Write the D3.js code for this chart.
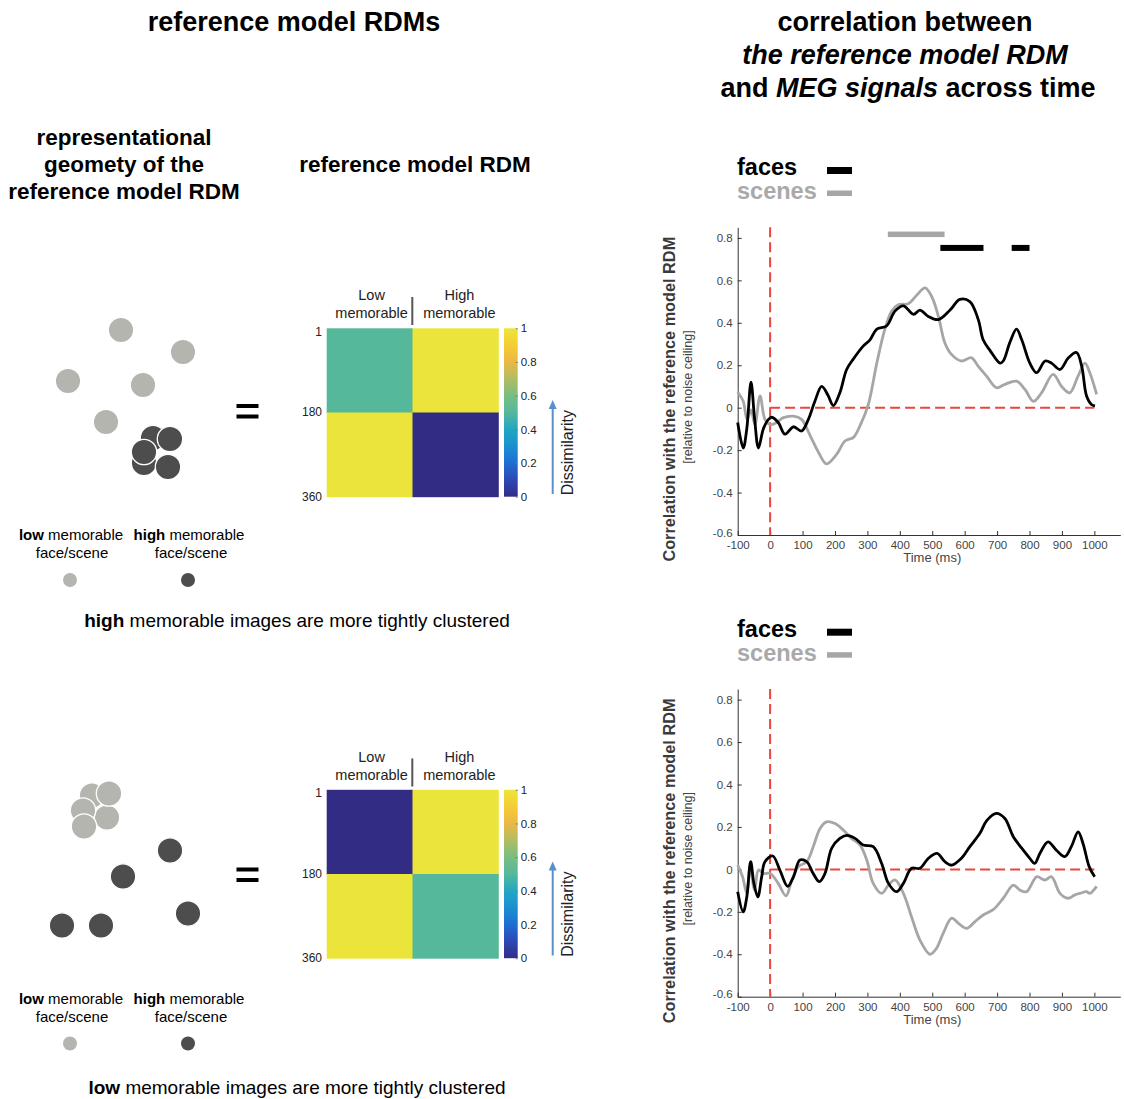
<!DOCTYPE html>
<html>
<head>
<meta charset="utf-8">
<script src="https://cdn.jsdelivr.net/npm/d3@7"></script>
<style>
  body { margin: 0; background: #fff; }
  svg text { font-family: "Liberation Sans", Arial, Helvetica, sans-serif; }
</style>
</head>
<body>
<div id="fig"></div>
<script>
// ---- data ----
const timeTicks = [-100, 0, 100, 200, 300, 400, 500, 600, 700, 800, 900, 1000]
const corrTicks = [-0.6, -0.4, -0.2, 0, 0.2, 0.4, 0.6, 0.8]
const rdmTicks = [1, 180, 360]
const cbarTicks = [0, 0.2, 0.4, 0.6, 0.8, 1]
const groups = ["Low", "High"]

// model RDMs (block values, low / high memorable)
const rdmHighClustered = [[0.5, 1], [1, 0]]
const rdmLowClustered = [[0, 1], [1, 0.5]]

// 2D geometry sketches (arbitrary embedding units)
const geoHighLow = [[121, 30], [183, 52], [68, 81], [143, 85], [106, 122]]
const geoHighHigh = [[153, 138], [144, 163], [168, 167], [170, 139], [144, 152]]
const geoLowLow = [[92, 34], [107, 56], [109, 32], [83, 49], [84, 65]]
const geoLowHigh = [[170, 89], [123, 115], [188, 152], [62, 164], [101, 164]]

// [time ms, correlation] - high memorable clustered model
const facesA = [[-100,-0.07],[-83,-0.19],[-72,-0.1],[-59,0.12],[-48,-0.05],[-36,-0.19],[-21,-0.1],[-5,-0.055],[5,-0.045],[25,-0.07],[46,-0.125],[72,-0.09],[97,-0.11],[118,-0.055],[138,0.03],[159,0.1],[178,0.06],[195,0.01],[215,0.07],[236,0.18],[257,0.23],[287,0.29],[308,0.32],[329,0.37],[359,0.385],[385,0.455],[411,0.48],[442,0.44],[462,0.46],[488,0.43],[519,0.415],[555,0.46],[585,0.51],[616,0.5],[642,0.415],[657,0.32],[678,0.27],[709,0.21],[719,0.22],[740,0.31],[760,0.37],[776,0.32],[801,0.21],[822,0.165],[848,0.22],[868,0.21],[894,0.18],[920,0.235],[945,0.26],[961,0.195],[976,0.055],[991,0.015],[1002,0.008]]
const scenesA = [[-100,0.074],[-83,0.03],[-71,-0.055],[-59,-0.01],[-47,-0.08],[-31,0.055],[-16,-0.055],[0,-0.08],[20,-0.07],[41,-0.047],[72,-0.04],[97,-0.055],[123,-0.13],[149,-0.21],[174,-0.265],[205,-0.22],[231,-0.157],[257,-0.14],[277,-0.086],[303,0.016],[329,0.21],[354,0.37],[375,0.455],[395,0.485],[426,0.49],[452,0.53],[478,0.565],[498,0.525],[519,0.43],[539,0.305],[560,0.25],[590,0.22],[621,0.235],[642,0.195],[667,0.15],[698,0.094],[724,0.11],[760,0.125],[786,0.086],[812,0.03],[837,0.07],[873,0.157],[899,0.1],[924,0.07],[950,0.15],[971,0.21],[986,0.165],[1007,0.063]]
const facesSigA = [[525, 658], [745, 800]]
const scenesSigA = [[363, 538]]

// [time ms, correlation] - low memorable clustered model
const facesB = [[-100,-0.105],[-83,-0.2],[-72,-0.13],[-60,0.036],[-50,-0.066],[-38,-0.13],[-26,-0.035],[-16,0.036],[8,0.063],[30,-0.003],[54,-0.08],[72,-0.035],[92,0.044],[113,0.036],[133,-0.02],[152,-0.058],[169,-0.02],[190,0.1],[215,0.146],[236,0.16],[262,0.146],[287,0.115],[318,0.107],[344,0.028],[365,-0.066],[390,-0.105],[411,-0.066],[436,0.005],[462,0.005],[488,0.052],[515,0.075],[539,0.036],[560,0.02],[590,0.052],[616,0.107],[647,0.17],[668,0.23],[698,0.264],[724,0.24],[750,0.154],[776,0.1],[801,0.052],[816,0.028],[832,0.075],[857,0.13],[883,0.09],[909,0.06],[929,0.107],[950,0.177],[965,0.122],[984,0.013],[1001,-0.035]]
const scenesB = [[-100,0.02],[-85,-0.035],[-72,-0.113],[-62,0.013],[-48,-0.097],[-36,-0.003],[-21,-0.019],[0,-0.019],[25,-0.066],[49,-0.125],[67,-0.05],[87,0.013],[113,0.036],[133,0.107],[154,0.193],[174,0.224],[200,0.216],[226,0.185],[251,0.146],[277,0.115],[298,0.044],[318,-0.066],[344,-0.113],[365,-0.074],[385,-0.05],[411,-0.113],[436,-0.223],[462,-0.333],[493,-0.4],[513,-0.372],[534,-0.3],[560,-0.23],[580,-0.253],[606,-0.278],[632,-0.246],[657,-0.215],[688,-0.19],[719,-0.136],[750,-0.074],[770,-0.097],[791,-0.105],[822,-0.035],[847,-0.05],[868,-0.035],[894,-0.113],[919,-0.136],[940,-0.12],[955,-0.113],[976,-0.105],[986,-0.113],[1007,-0.08]]
const facesSigB = []
const scenesSigB = []

// ---- page ----
const W = 1124, H = 1099
const OFF = 461.5   // vertical shift of the lower row
const svg = d3.select("#fig").append("svg").attr("width", W).attr("height", H)

const lightC = "#b4b5af", darkC = "#4d4d4d"
const facesC = "#000", scenesC = "#a6a6a6", zeroC = "#e8473b"

// parula-like colormap
const cmap = d3.scaleLinear()
  .domain([0, 0.1, 0.2, 0.3, 0.4, 0.5, 0.6, 0.7, 0.8, 0.9, 1])
  .range(["#332c85", "#2c48b4", "#1f6ed2", "#1b8fd2", "#22a6c2", "#55b89b", "#78bd83", "#b0bd62", "#eab845", "#f6cc33", "#ebe53b"])

// column titles
svg.append("text").attr("x", 294).attr("y", 31).attr("text-anchor", "middle")
  .style("font-size", "27px").style("font-weight", "bold").text("reference model RDMs")

let rt = svg.append("g").attr("text-anchor", "middle").style("font-size", "27px").style("font-weight", "bold")
rt.append("text").attr("x", 905).attr("y", 31).text("correlation between")
rt.append("text").attr("x", 905).attr("y", 64).style("font-style", "italic").text("the reference model RDM")
let t3 = rt.append("text").attr("x", 908).attr("y", 97)
t3.append("tspan").text("and ")
t3.append("tspan").style("font-style", "italic").text("MEG signals")
t3.append("tspan").text(" across time")

let st = svg.append("g").attr("text-anchor", "middle").style("font-size", "22.5px").style("font-weight", "bold")
;["representational", "geomety of the", "reference model RDM"].forEach((s, i) => {
  st.append("text").attr("x", 124).attr("y", 145 + i * 27).text(s)
})
st.append("text").attr("x", 415).attr("y", 172).text("reference model RDM")

// ---- geometry sketch ----
const gx = d3.scaleLinear().domain([0, 240]).range([0, 240])
const gy = d3.scaleLinear().domain([0, 200]).range([300, 500])

function drawGeometry(lowPts, highPts, dy) {
  let g = svg.append("g").attr("transform", `translate(0,${dy})`)
  g.selectAll(".lo").data(lowPts).enter().append("circle")
    .attr("cx", d => gx(d[0])).attr("cy", d => gy(d[1]))
    .attr("r", 12.7).attr("fill", lightC).attr("stroke", "#fff").attr("stroke-width", 1.3)
  g.selectAll(".hi").data(highPts).enter().append("circle")
    .attr("cx", d => gx(d[0])).attr("cy", d => gy(d[1]))
    .attr("r", 12.7).attr("fill", darkC).attr("stroke", "#fff").attr("stroke-width", 1.3)
  return g
}

function drawLegendLeft(dy, boldWord, caption, capY) {
  let g = svg.append("g").attr("transform", `translate(0,${dy})`).style("font-size", "15px")
  let a = g.append("text").attr("x", 71).attr("y", 540).attr("text-anchor", "middle")
  a.append("tspan").style("font-weight", "bold").text("low")
  a.append("tspan").text(" memorable")
  g.append("text").attr("x", 72).attr("y", 558).attr("text-anchor", "middle").text("face/scene")
  let b = g.append("text").attr("x", 189).attr("y", 540).attr("text-anchor", "middle")
  b.append("tspan").style("font-weight", "bold").text("high")
  b.append("tspan").text(" memorable")
  g.append("text").attr("x", 191).attr("y", 558).attr("text-anchor", "middle").text("face/scene")
  g.append("circle").attr("cx", 70).attr("cy", 580).attr("r", 7).attr("fill", lightC)
  g.append("circle").attr("cx", 188).attr("cy", 580).attr("r", 7).attr("fill", darkC)
  // equals sign
  g.append("rect").attr("x", 236.5).attr("y", 404).attr("width", 22).attr("height", 4).attr("fill", "#000")
  g.append("rect").attr("x", 236.5).attr("y", 414.5).attr("width", 22).attr("height", 4).attr("fill", "#000")
  let c = g.append("text").attr("x", 297).attr("y", capY).attr("text-anchor", "middle").style("font-size", "19px")
  c.append("tspan").style("font-weight", "bold").text(boldWord)
  c.append("tspan").text(caption)
}

drawGeometry(geoHighLow, geoHighHigh, 0)
drawLegendLeft(0, "high", " memorable images are more tightly clustered", 627)
drawGeometry(geoLowLow, geoLowHigh, OFF)
drawLegendLeft(OFF + 2, "low", " memorable images are more tightly clustered", 630)

// ---- RDM matrix ----
function drawRdm(matrix, dy) {
  let g = svg.append("g").attr("transform", `translate(0,${dy})`)
  const bx = d3.scaleBand().domain(groups).range([326.7, 498.3])
  const by = d3.scaleBand().domain(groups).range([328.3, 496.7])
  const ry = d3.scaleLinear().domain([0.5, 360.5]).range([328.3, 496.7])
  const cells = []
  matrix.forEach((row, i) => row.forEach((v, j) => cells.push({ r: groups[i], c: groups[j], v })))
  g.selectAll("rect.cell").data(cells).enter().append("rect").attr("class", "cell")
    .attr("x", d => bx(d.c)).attr("y", d => by(d.r))
    .attr("width", bx.bandwidth() + 0.5).attr("height", by.bandwidth() + 0.5)
    .attr("fill", d => cmap(d.v))
  // row ticks
  g.selectAll("text.rt").data(rdmTicks).enter().append("text").attr("class", "rt")
    .attr("x", 322).attr("y", d => ry(d) + (d === 1 ? 3 : 0)).attr("dy", "0.35em")
    .attr("text-anchor", "end").style("font-size", "12px").attr("fill", "#222").text(d => d)
  // column headers
  let hg = g.append("g").attr("text-anchor", "middle").style("font-size", "14.5px").attr("fill", "#222")
  groups.forEach(k => {
    let cx = bx(k) + bx.bandwidth() / 2 + (k === "Low" ? 2 : 4)
    hg.append("text").attr("x", cx).attr("y", 300).text(k)
    hg.append("text").attr("x", cx).attr("y", 318).text("memorable")
  })
  g.append("line").attr("x1", 412.3).attr("x2", 412.3).attr("y1", 297).attr("y2", 325)
    .attr("stroke", "#555").attr("stroke-width", 2)
  // colorbar
  const cy = d3.scaleLinear().domain([0, 1]).range([496.7, 328.3])
  const gid = "grad" + Math.round(dy)
  let grad = svg.append("defs").append("linearGradient").attr("id", gid)
    .attr("x1", 0).attr("y1", 1).attr("x2", 0).attr("y2", 0)
  d3.range(0, 1.0001, 0.05).forEach(t => {
    grad.append("stop").attr("offset", t).attr("stop-color", cmap(t))
  })
  g.append("rect").attr("x", 504).attr("y", 328.3).attr("width", 13.7).attr("height", 168.4)
    .attr("fill", `url(#${gid})`)
  const cax = d3.axisRight(cy).tickValues(cbarTicks).tickSize(-2).tickPadding(3)
    .tickFormat(d => String(d))
  let ca = g.append("g").attr("transform", "translate(517.7,0)").call(cax)
  ca.select(".domain").remove()
  ca.selectAll(".tick line").attr("stroke", "#777")
  ca.selectAll("text").style("font-size", "11.5px").attr("fill", "#222")
    .style("font-family", '"Liberation Sans", Arial, sans-serif')
  // dissimilarity arrow
  g.append("line").attr("x1", 552.7).attr("x2", 552.7).attr("y1", 494).attr("y2", 407)
    .attr("stroke", "#5b8fcc").attr("stroke-width", 2)
  g.append("path").attr("d", "M552.7,400 L548.7,409 L556.7,409 Z").attr("fill", "#5b8fcc")
  g.append("text").attr("transform", "translate(572.5,452.7) rotate(-90)").attr("text-anchor", "middle")
    .style("font-size", "16px").attr("fill", "#222").text("Dissimilarity")
}

drawRdm(rdmHighClustered, 0)
drawRdm(rdmLowClustered, OFF)

// ---- correlation time courses ----
const x = d3.scaleLinear().domain([-100, 1080]).range([737.7, 1120.3])

function drawCorr(faces, scenes, facesSig, scenesSig, y0) {
  const y = d3.scaleLinear().domain([-0.6, 0.85]).range([y0, y0 - 1.45 * 212.2])
  let g = svg.append("g")

  const yax = d3.axisLeft(y).tickValues(corrTicks).tickSize(-4).tickSizeOuter(0).tickPadding(5)
    .tickFormat(d => String(+d.toFixed(1)))
  const xax = d3.axisBottom(x).tickValues(timeTicks).tickSize(-4).tickSizeOuter(0).tickPadding(7)
    .tickFormat(d => String(d))
  let ya = g.append("g").attr("transform", `translate(${x(-100)},0)`).call(yax)
  let xa = g.append("g").attr("transform", `translate(0,${y(-0.6)})`).call(xax)
  ;[ya, xa].forEach(a => {
    a.select(".domain").attr("stroke", "#333")
    a.selectAll(".tick line").attr("stroke", "#333")
    a.selectAll("text").style("font-size", "11.5px").attr("fill", "#444")
      .style("font-family", '"Liberation Sans", Arial, sans-serif')
  })
  xa.selectAll("text").attr("dy", "0.6em")
  ya.selectAll(".tick text").filter(d => d === -0.6).attr("dy", "0.1em")

  // zero lines
  g.append("line").attr("x1", x(0)).attr("x2", x(0)).attr("y1", y(0.85)).attr("y2", y(-0.6))
    .attr("stroke", zeroC).attr("stroke-width", 2).attr("stroke-dasharray", "10,5")
  g.append("line").attr("x1", x(0)).attr("x2", x(1000)).attr("y1", y(0)).attr("y2", y(0))
    .attr("stroke", zeroC).attr("stroke-width", 2).attr("stroke-dasharray", "10,5")

  const line = d3.line().x(d => x(d[0])).y(d => y(d[1])).curve(d3.curveCatmullRom.alpha(0.5))
  g.append("path").datum(scenes).attr("d", line).attr("fill", "none")
    .attr("stroke", scenesC).attr("stroke-width", 2.8).attr("stroke-linejoin", "round")
  g.append("path").datum(faces).attr("d", line).attr("fill", "none")
    .attr("stroke", facesC).attr("stroke-width", 2.8).attr("stroke-linejoin", "round")

  // significance bars
  g.selectAll(".ss").data(scenesSig).enter().append("rect")
    .attr("x", d => x(d[0])).attr("width", d => x(d[1]) - x(d[0]))
    .attr("y", y(0.83)).attr("height", 5.5).attr("fill", scenesC)
  g.selectAll(".fs").data(facesSig).enter().append("rect")
    .attr("x", d => x(d[0])).attr("width", d => x(d[1]) - x(d[0]))
    .attr("y", y(0.767)).attr("height", 6).attr("fill", facesC)

  // axis titles
  g.append("text").attr("transform", `translate(675,${y(0.04)}) rotate(-90)`).attr("text-anchor", "middle")
    .style("font-size", "16.3px").style("font-weight", "bold").attr("fill", "#3a3a3a")
    .text("Correlation with the reference model RDM")
  g.append("text").attr("transform", `translate(692,${y(0.05)}) rotate(-90)`).attr("text-anchor", "middle")
    .style("font-size", "12.5px").attr("fill", "#444").text("[relative to noise ceiling]")
  g.append("text").attr("x", x(500)).attr("y", y0 + 27).attr("text-anchor", "middle")
    .style("font-size", "13px").attr("fill", "#444").text("Time (ms)")

  // legend
  const ly = y0 - 360
  g.append("text").attr("x", 737).attr("y", ly).style("font-size", "23.5px").style("font-weight", "bold")
    .attr("fill", facesC).text("faces")
  g.append("rect").attr("x", 827).attr("y", ly - 8).attr("width", 25).attr("height", 7).attr("fill", facesC)
  g.append("text").attr("x", 737).attr("y", ly + 24).style("font-size", "23.5px").style("font-weight", "bold")
    .attr("fill", "#a9a9a9").text("scenes")
  g.append("rect").attr("x", 827).attr("y", ly + 15.5).attr("width", 25).attr("height", 5.5).attr("fill", scenesC)
}

drawCorr(facesA, scenesA, facesSigA, scenesSigA, 535)
drawCorr(facesB, scenesB, facesSigB, scenesSigB, 996.7)
</script>
</body>
</html>
